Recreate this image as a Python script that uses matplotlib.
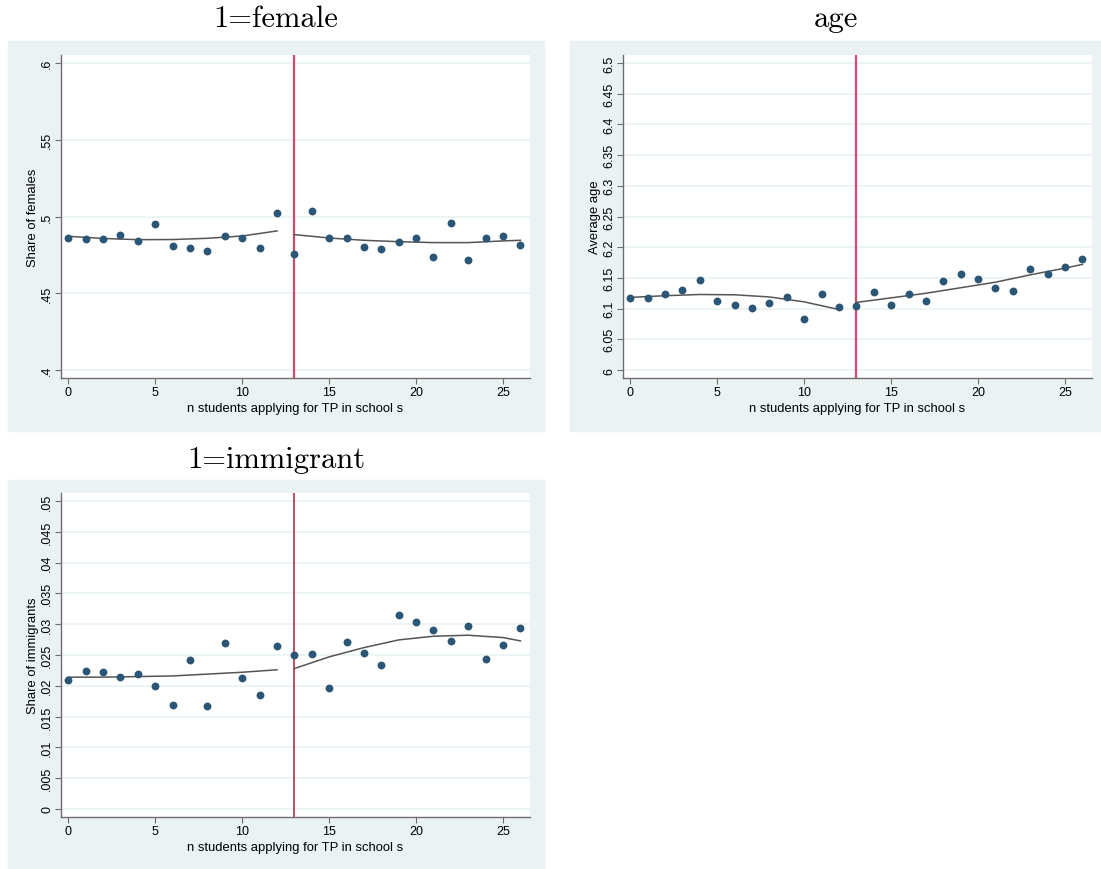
import matplotlib

matplotlib.use("Agg")
import matplotlib.pyplot as plt
import numpy as np
from matplotlib.patches import Rectangle

plt.rcParams["font.family"] = ["Liberation Sans", "DejaVu Sans"]

n_applying = np.arange(27)
cutoff = 13

share_female = [0.4863, 0.4852, 0.4856, 0.4880, 0.4839, 0.4952, 0.4810, 0.4793, 0.4775,
                0.4876, 0.4858, 0.4793, 0.5022, 0.4756, 0.5035, 0.4863, 0.4863, 0.4804,
                0.4786, 0.4834, 0.4863, 0.4734, 0.4959, 0.4716, 0.4858, 0.4876, 0.4817]
avg_age = [6.1172, 6.1172, 6.1232, 6.1309, 6.1467, 6.1129, 6.1052, 6.1009, 6.1085,
           6.1183, 6.0834, 6.1243, 6.1025, 6.1036, 6.1276, 6.1052, 6.1243, 6.1129,
           6.1450, 6.1570, 6.1478, 6.1336, 6.1292, 6.1641, 6.1559, 6.1685, 6.1805]
share_immig = [0.02102, 0.02239, 0.02217, 0.02146, 0.02190, 0.01993, 0.01694, 0.02424,
               0.01667, 0.02696, 0.02130, 0.01857, 0.02647, 0.02500, 0.02522, 0.01966,
               0.02712, 0.02533, 0.02337, 0.03143, 0.03028, 0.02908, 0.02729, 0.02963,
               0.02429, 0.02658, 0.02936]

# fitted curves, left and right of the cutoff
fit_x_left = [0, 2, 4, 6, 8, 10, 12]
fit_x_right = [13, 15, 17, 19, 21, 23, 25, 26]
female_fit_left = [0.4871, 0.4857, 0.4849, 0.4850, 0.4858, 0.4873, 0.4906]
female_fit_right = [0.4882, 0.4860, 0.4845, 0.4836, 0.4830, 0.4830, 0.4841, 0.4845]
age_fit_left = [6.1183, 6.1210, 6.1230, 6.1225, 6.1190, 6.1110, 6.0985]
age_fit_right = [6.1101, 6.1175, 6.1250, 6.1340, 6.1430, 6.1550, 6.1660, 6.1720]
immig_fit_left = [0.0214, 0.0214, 0.0215, 0.0216, 0.0219, 0.0222, 0.0226]
immig_fit_right = [0.0228, 0.0247, 0.0262, 0.02745, 0.02805, 0.02821, 0.02783, 0.02729]

female_ticks = [0.4, 0.45, 0.5, 0.55, 0.6]
female_labels = [".4", ".45", ".5", ".55", ".6"]
age_ticks = [6 + 0.05 * i for i in range(11)]
age_labels = ["6", "6.05", "6.1", "6.15", "6.2", "6.25", "6.3", "6.35", "6.4", "6.45", "6.5"]
immig_ticks = [0.005 * i for i in range(11)]
immig_labels = ["0", ".005", ".01", ".015", ".02", ".025", ".03", ".035", ".04", ".045", ".05"]

W, H = 1101, 870
BG = "#eaf2f3"
DOT = "#2b5676"
AXC = "#6e6e6e"

fig = plt.figure(figsize=(W / 100, H / 100), dpi=100)


def px_rect(x0, y0, x1, y1):
    return [x0 / W, 1 - y1 / H, (x1 - x0) / W, (y1 - y0) / H]


panels = [
    dict(bg=(8, 42, 544, 432), ax=(61, 56, 530, 379), title="1=female", ty=19,
         y=share_female, fl=female_fit_left, fr=female_fit_right,
         ticks=female_ticks, labels=female_labels, ylab="Share of females",
         vc="#d04a6e", vlw=1.6),
    dict(bg=(570, 42, 1101, 432), ax=(623, 56, 1092, 379), title="age", ty=19,
         y=avg_age, fl=age_fit_left, fr=age_fit_right,
         ticks=age_ticks, labels=age_labels, ylab="Average age",
         vc="#d04a6e", vlw=1.6),
    dict(bg=(8, 481, 544, 870), ax=(61, 494, 530, 818), title="1=immigrant", ty=460,
         y=share_immig, fl=immig_fit_left, fr=immig_fit_right,
         ticks=immig_ticks, labels=immig_labels, ylab="Share of immigrants",
         vc="#b31e40", vlw=1.1),
]

for p in panels:
    bx0, by0, bx1, by1 = p["bg"]
    fig.patches.append(Rectangle((bx0 / W, 1 - by1 / H), (bx1 - bx0) / W, (by1 - by0) / H,
                                 transform=fig.transFigure, color=BG, zorder=-5))
    fig.text((bx0 + bx1) / 2 / W, 1 - p["ty"] / H, p["title"],
             ha="center", va="center", fontsize=22, fontfamily="cmr10")

    ax = fig.add_axes(px_rect(*p["ax"]))
    ax.set_zorder(2)
    ax.set_facecolor("white")
    t = p["ticks"]
    span = t[-1] - t[0]
    ax.set_ylim(t[0] - span * 0.026, t[-1] + span * 0.026)
    ax.set_xlim(-0.42, 26.55)
    for v in t:
        ax.axhline(v, color=BG, lw=1.2, zorder=1)
    ax.axvline(cutoff, color=p["vc"], lw=p["vlw"], zorder=2)
    ax.plot(fit_x_left, p["fl"], color="#555555", lw=1.1, zorder=3)
    ax.plot(fit_x_right, p["fr"], color="#555555", lw=1.1, zorder=3)
    ax.scatter(n_applying, p["y"], s=32, color=DOT, zorder=4, linewidths=0)

    ax.set_yticks(t)
    ax.set_yticklabels(p["labels"], rotation=90, va="center")
    ax.set_xticks([0, 5, 10, 15, 20, 25])
    ax.tick_params(axis="both", labelsize=9, color=AXC, length=4, width=0.8)
    ax.tick_params(axis="x", pad=2)
    ax.tick_params(axis="y", pad=1.5)
    for s in ["top", "right"]:
        ax.spines[s].set_visible(False)
    for s in ["left", "bottom"]:
        ax.spines[s].set_color(AXC)
        ax.spines[s].set_linewidth(1.0)
    ax.set_xlabel("n students applying for TP in school s", fontsize=9.4, labelpad=2.5)
    ax.set_ylabel(p["ylab"], fontsize=9.4, labelpad=1.5)

fig.savefig("out.png", dpi=100)
